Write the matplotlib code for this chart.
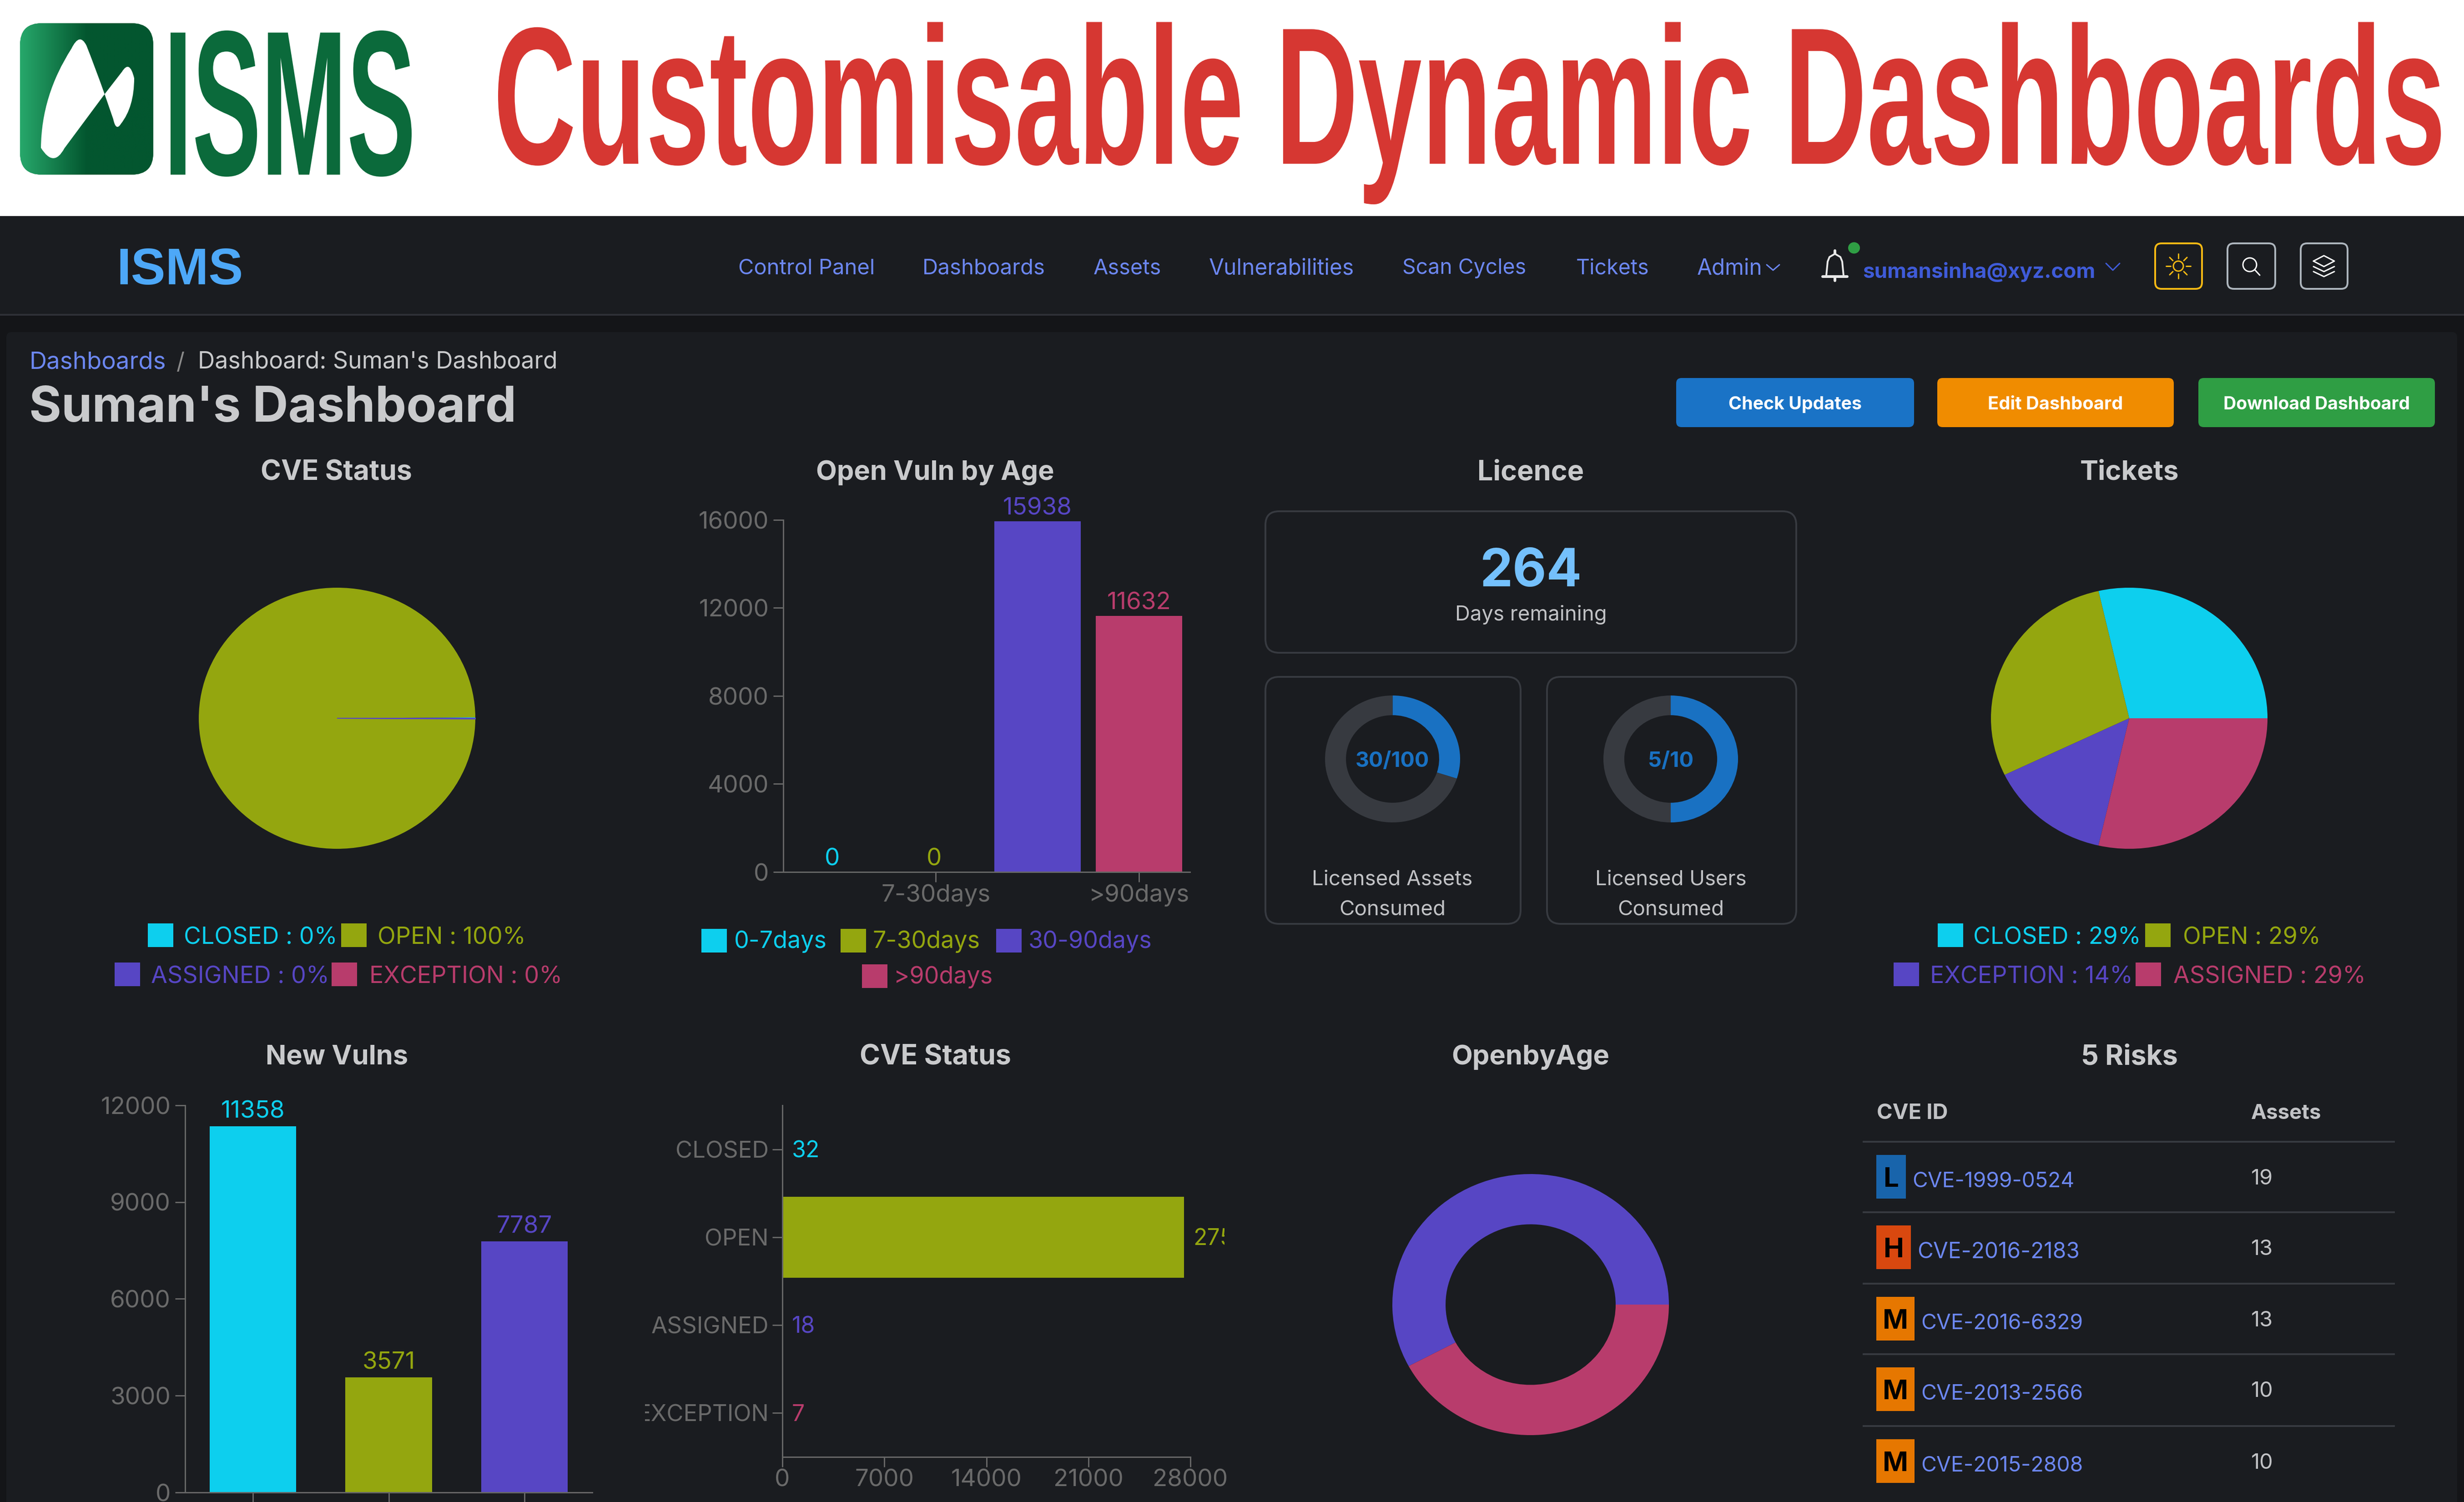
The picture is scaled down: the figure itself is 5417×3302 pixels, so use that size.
import numpy as np
import matplotlib
matplotlib.use('Agg')
import matplotlib.pyplot as plt
from matplotlib.patches import FancyBboxPatch, PathPatch, Rectangle, Ellipse
from matplotlib.path import Path
from matplotlib.colors import LinearSegmentedColormap
from matplotlib.textpath import TextPath
from matplotlib.font_manager import FontProperties
from matplotlib.patheffects import AbstractPathEffect
from matplotlib.transforms import Affine2D, Bbox

W, H = 5417, 3302

# data
status_names = ['CLOSED', 'OPEN', 'ASSIGNED', 'EXCEPTION']
status_counts = [32, 27570, 18, 7]
status_pct = [0, 100, 0, 0]

age_names = ['0-7days', '7-30days', '30-90days', '>90days']
age_values = [0, 0, 15938, 11632]
age_ticks = [None, '7-30days', None, '>90days']

ticket_names = ['CLOSED', 'OPEN', 'EXCEPTION', 'ASSIGNED']
ticket_counts = [2, 2, 1, 2]
ticket_pct = [29, 29, 14, 29]

new_vulns = [11358, 3571, 7787]

openby_age = [15938, 11632]

days_remaining = 264
assets_used, assets_total = 30, 100
users_used, users_total = 5, 10

risk_levels = ['L', 'H', 'M', 'M', 'M']
risk_ids = ['CVE-1999-0524', 'CVE-2016-2183', 'CVE-2016-6329', 'CVE-2013-2566', 'CVE-2015-2808']
risk_assets = [19, 13, 13, 10, 10]

nav_items = ['Control Panel', 'Dashboards', 'Assets', 'Vulnerabilities', 'Scan Cycles', 'Tickets', 'Admin']
buttons = ['Check Updates', 'Edit Dashboard', 'Download Dashboard']

# colours
CYAN, OLIVE, PURPLE, CRIMSON = '#0DCFEE', '#94A60F', '#5746C4', '#B83C6C'
BG, DARK, LINE = '#1A1C20', '#141518', '#373A40'
AXIS, TICK = '#666666', '#6A6A6A'
LIGHT, LINK, BLUE = '#C9CACC', '#6C87F0', '#1971C2'
status_colors = [CYAN, OLIVE, PURPLE, CRIMSON]
age_colors = [CYAN, OLIVE, PURPLE, CRIMSON]
ticket_colors = [CYAN, OLIVE, PURPLE, CRIMSON]
risk_colors = {'L': '#1864AB', 'H': '#D9480F', 'M': '#E67700'}

FONT = 'Inter'
FS = 53
LEGEND_FS = 52
plt.rcParams['font.family'] = [FONT, 'DejaVu Sans']

# dpi 72 so that a font size or a line width is simply in pixels
fig = plt.figure(figsize=((W + 0.01) / 72, (H + 0.01) / 72), dpi=72, facecolor='white')
bg = fig.add_axes([0, 0, 1, 1])
bg.set_xlim(0, W)
bg.set_ylim(H, 0)
bg.axis('off')


class YStretch(AbstractPathEffect):
    # pulls a text up about its baseline, the header lettering is very condensed
    def __init__(self, sy, y0):
        super().__init__()
        self.sy, self.y0 = sy, y0

    def draw_path(self, renderer, gc, tpath, affine, rgbFace=None):
        t = Affine2D().translate(0, -self.y0).scale(1, self.sy).translate(0, self.y0)
        renderer.draw_path(gc, tpath, affine + t, rgbFace)


def ink(s, size, weight='normal', family=FONT):
    prop = FontProperties(family=family, weight=weight)
    return TextPath((0, 0), s, size=size, prop=prop).get_extents()


def put(x, y, s, size=None, color=LIGHT, weight='normal', ha='left', width=None, **kw):
    # width: pick the font size so the string is that many pixels wide
    if width is not None:
        size = 100 * width / ink(s, 100, weight).width
    return bg.text(x, y, s, fontsize=size, color=color, fontweight=weight, ha=ha, va='center', **kw)


def condensed(x0, x1, base, s, tall_size, color):
    # font size from the width, then stretched up to the height of tall_size
    ext = ink(s, 100, 'bold', 'Liberation Sans')
    size = 100 * (x1 - x0) / ext.width
    xa = x0 - ext.x0 * size / 100
    bg.text(xa, base, s, fontsize=size, color=color, family='Liberation Sans', fontweight='bold',
            ha='left', va='baseline', path_effects=[YStretch(tall_size / size, H - base)])


def box(x0, y0, x1, y1, r, fc='none', ec='none', lw=0, z=1):
    p = FancyBboxPatch((x0, y0), x1 - x0, y1 - y0, boxstyle=f'round,pad=0,rounding_size={r}',
                       fc=fc, ec=ec, lw=lw, zorder=z)
    bg.add_patch(p)
    return p


def stroke(xs, ys, color='white', lw=3):
    bg.plot(xs, ys, color=color, lw=lw, solid_capstyle='round', zorder=5)


def chart_ax(x0, y0, x1, y1):
    ax = fig.add_axes([x0 / W, 1 - y1 / H, (x1 - x0) / W, (y1 - y0) / H])
    ax.patch.set_visible(False)
    return ax


def style_axes(ax):
    for side in ['top', 'right']:
        ax.spines[side].set_visible(False)
    for side in ['left', 'bottom']:
        ax.spines[side].set_color(AXIS)
        ax.spines[side].set_linewidth(3)
    ax.tick_params(colors=AXIS, labelcolor=TICK, labelsize=FS, width=3, length=22, pad=10)
    ax.tick_params(axis='x', pad=4)


def pie_ax(x0, y0, x1, y1, values, colors, start=0, ccw=True, ring=None):
    ax = chart_ax(x0, y0, x1, y1)
    props = {'linewidth': 0, 'clip_on': False}
    if ring is not None:
        props['width'] = ring
    wedges, _ = ax.pie(values, colors=colors, startangle=start, counterclock=ccw, wedgeprops=props)
    # the screenshot is a little wider than tall, so circles come out as ellipses
    ax.set_aspect('auto')
    ax.set_xlim(-1, 1)
    ax.set_ylim(-1, 1)
    return wedges


def legend_row(y, items, dy=6):
    for x_sq, x_txt, label, color in items:
        bg.add_patch(Rectangle((x_sq, y - 26), 56, 52, fc=color, lw=0))
        put(x_txt, y + dy, label, LEGEND_FS, color)


# header
bg.add_patch(Rectangle((0, 475), W, H - 475, fc=BG, lw=0))
bg.add_patch(Rectangle((0, 690), W, 4, fc='#2E3036', lw=0))
bg.add_patch(Rectangle((0, 694), W, H - 694, fc=DARK, lw=0))
box(14, 730, 5402, H + 40, 12, fc=BG)

logo = box(44, 51, 337, 384, 48, fc='#0B6A3B', z=2)
grad = LinearSegmentedColormap.from_list('logo', ['#27A86B', '#03562F', '#03562F'])
im = bg.imshow(np.linspace(0, 1, 256).reshape(1, -1), extent=(44, 337, 384, 51), cmap=grad, aspect='auto', zorder=3)
im.set_clip_path(logo)
bg.set_xlim(0, W)
bg.set_ylim(H, 0)
big_leaf = Path([(157, 107), (175, 70), (190, 100), (208, 145), (230, 207), (141.6, 326), (118, 370), (90, 325),
                 (91, 210), (157, 107), (157, 107)],
                [Path.MOVETO, Path.CURVE3, Path.CURVE3, Path.CURVE3, Path.CURVE3, Path.LINETO, Path.CURVE3,
                 Path.CURVE3, Path.CURVE3, Path.CURVE3, Path.CLOSEPOLY])
small_leaf = Path([(230, 207), (268, 158), (285, 130), (295, 172), (295, 235), (266, 272), (255, 290), (249, 262), (230, 207)],
                  [Path.MOVETO, Path.LINETO, Path.CURVE3, Path.CURVE3, Path.CURVE3, Path.CURVE3, Path.CURVE3,
                   Path.CURVE3, Path.CLOSEPOLY])
bg.add_patch(PathPatch(big_leaf, fc='white', lw=0, zorder=4))
bg.add_patch(PathPatch(small_leaf, fc='white', lw=0, zorder=4))

condensed(375, 905, 384, 'ISMS', 454, '#0B6A3B')
condensed(1095, 5366, 360, 'Customisable Dynamic Dashboards', 430, '#D63732')

# nav bar
bg.text(256, 596, 'ISMS', color='#4DA8F8', fontweight='bold', va='center', family='Liberation Sans',
        fontsize=100 * 266 / ink('ISMS', 100, 'bold', 'Liberation Sans').width)
nav_x = [(1623, 1917), (2028, 2292), (2404, 2550), (2658, 2973), (3083, 3350), (3465, 3621), (3731, 3870)]
for name, (x0, x1) in zip(nav_items, nav_x):
    put(x0, 590, name, color=LINK, width=x1 - x0)
stroke([3884, 3898, 3912], [582, 594, 582], LINK, 3)

# bell
bell_x = [4015, 4018, 4022, 4034, 4046, 4050, 4053]
bell_y = [606, 575, 565, 558, 565, 575, 606]
stroke(bell_x, bell_y, '#E8E8E8', 4)
stroke([4007, 4061], [608, 608], '#E8E8E8', 6)
stroke([4034, 4034], [551, 557], '#E8E8E8', 6)
stroke([4034, 4034], [611, 617], '#E8E8E8', 6)
bg.add_patch(Ellipse((4076, 545), 26, 25, fc='#2F9E44', lw=0, zorder=5))
put(4095, 598, 'sumansinha@xyz.com', color='#3F5BD8', width=507, weight='bold')
stroke([4630, 4645, 4660], [579, 594, 579], '#3F5BD8', 3)

box(4738, 535, 4841, 635, 14, ec='#F5B914', lw=4)
box(4897, 535, 5002, 635, 14, ec='#ADB5BD', lw=4)
box(5058, 535, 5161, 635, 14, ec='#ADB5BD', lw=4)
bg.add_patch(Ellipse((4789, 585), 22, 22, fc='none', ec='#F5B914', lw=3, zorder=5))
for a in np.arange(0, 360, 45):
    dx, dy = np.cos(np.radians(a)), np.sin(np.radians(a))
    stroke([4789 + 17 * dx, 4789 + 27 * dx], [585 + 17 * dy, 585 + 27 * dy], '#F5B914', 3)
bg.add_patch(Ellipse((4946, 582), 30, 30, fc='none', ec='white', lw=3, zorder=5))
stroke([4957, 4968], [593, 605], 'white', 3)
stroke([5086, 5109, 5132, 5109, 5086], [574, 562, 574, 586, 574], 'white', 3)
stroke([5086, 5109, 5132], [586, 597, 586], 'white', 3)
stroke([5086, 5109, 5132], [597, 608, 597], 'white', 3)

# page head
put(64, 797, 'Dashboards', color=LINK, width=293)
put(388, 797, '/', 50, '#8A8A8A')
put(435, 797, "Dashboard: Suman's Dashboard", color=LIGHT, width=782)
put(64, 898, "Suman's Dashboard", color=LIGHT, width=1060, weight='bold')

button_x = [(3685, 4208), (4259, 4779), (4833, 5353)]
button_text_w = [290, 292, 405]
button_fc = ['#1A73C6', '#F08C00', '#2F9E44']
for name, (x0, x1), tw, fc in zip(buttons, button_x, button_text_w, button_fc):
    box(x0, 831, x1, 939, 12, fc=fc)
    put((x0 + x1) / 2, 889, name, color='white', weight='bold', ha='center', width=tw, zorder=5)

# titles
for x, y, s, tw in [(739, 1039, 'CVE Status', 328), (2056, 1039, 'Open Vuln by Age', 518), (3365, 1039, 'Licence', 228),
                    (4681, 1039, 'Tickets', 213), (741, 2324, 'New Vulns', 307), (2056, 2324, 'CVE Status', 328),
                    (3365, 2324, 'OpenbyAge', 342), (4681, 2324, '5 Risks', 207)]:
    put(x, y, s, color=LIGHT, weight='bold', ha='center', width=tw)

# CVE status pie
wedges = pie_ax(437, 1292, 1045, 1866, status_counts, status_colors)
for w_, c in zip(wedges, status_colors):
    if c in (PURPLE, CRIMSON):
        w_.set_edgecolor(PURPLE)
        w_.set_linewidth(2)
        w_.set_zorder(3)
status_labels = [f'{n} : {p}%' for n, p in zip(status_names, status_pct)]
legend_row(2056, [(325, 404, status_labels[0], CYAN), (750, 830, status_labels[1], OLIVE)])
legend_row(2142, [(252, 332, status_labels[2], PURPLE), (729, 812, status_labels[3], CRIMSON)])

# open vuln by age
ax = chart_ax(1722, 1143, 2616, 1917)
style_axes(ax)
ax.bar(range(4), age_values, width=0.85, color=age_colors, lw=0)
ax.set_xlim(-0.5, 3.5)
ax.set_ylim(0, 16000)
ax.set_yticks([0, 4000, 8000, 12000, 16000])
tick_pos = [i for i, t in enumerate(age_ticks) if t]
ax.set_xticks(tick_pos, [age_ticks[i] for i in tick_pos])
for i, v in enumerate(age_values):
    ax.annotate(str(v), (i, v), xytext=(-4 if v == 0 else 0, 4), textcoords='offset points', ha='center', va='bottom',
                fontsize=FS, color=age_colors[i], annotation_clip=False)
legend_row(2068, [(1542, 1614, age_names[0], CYAN), (1848, 1918, age_names[1], OLIVE), (2190, 2261, age_names[2], PURPLE)], dy=2)
legend_row(2146, [(1895, 1965, age_names[3], CRIMSON)], dy=2)

# licence
box(2782, 1124, 3949, 1435, 30, ec=LINE, lw=4)
box(2782, 1488, 3343, 2031, 30, ec=LINE, lw=4)
box(3401, 1488, 3949, 2031, 30, ec=LINE, lw=4)
put(3366, 1259, str(days_remaining), color='#74C0FC', weight='bold', ha='center', width=213)
put(3366, 1351, 'Days remaining', color='#C1C2C5', ha='center', width=326)
pie_ax(2913, 1529, 3210, 1808, [assets_used, assets_total - assets_used], [BLUE, LINE], start=90, ccw=False, ring=0.31)
pie_ax(3525, 1529, 3821, 1808, [users_used, users_total - users_used], [BLUE, LINE], start=90, ccw=False, ring=0.31)
put(3061, 1674, f'{assets_used}/{assets_total}', color=BLUE, weight='bold', ha='center', width=158, zorder=6)
put(3673, 1674, f'{users_used}/{users_total}', color=BLUE, weight='bold', ha='center', width=95, zorder=6)
put(3061, 1933, 'Licensed Assets', color='#C1C2C5', ha='center', width=347)
put(3061, 1999, 'Consumed', color='#C1C2C5', ha='center', width=228)
put(3673, 1933, 'Licensed Users', color='#C1C2C5', ha='center', width=327)
put(3673, 1999, 'Consumed', color='#C1C2C5', ha='center', width=228)

# tickets pie
pie_ax(4377, 1292, 4985, 1866, ticket_counts, ticket_colors)
ticket_labels = [f'{n} : {p}%' for n, p in zip(ticket_names, ticket_pct)]
legend_row(2056, [(4260, 4338, ticket_labels[0], CYAN), (4716, 4799, ticket_labels[1], OLIVE)])
legend_row(2142, [(4163, 4243, ticket_labels[2], PURPLE), (4695, 4778, ticket_labels[3], CRIMSON)])

# new vulns
ax = chart_ax(407, 2430, 1302, 3281)
style_axes(ax)
ax.bar(range(3), new_vulns, width=0.637, color=status_colors[:3], lw=0)
ax.set_xlim(-0.5, 2.5)
ax.set_ylim(0, 12000)
ax.set_yticks([0, 3000, 6000, 9000, 12000])
ax.set_xticks(range(3), ['', '', ''])
for i, v in enumerate(new_vulns):
    ax.annotate(str(v), (i, v), xytext=(0, 7), textcoords='offset points', ha='center', va='bottom',
                fontsize=FS, color=status_colors[i])

# CVE status bars, the labels are cut off by the edge of the panel
ax = chart_ax(1720, 2430, 2617, 3203)
style_axes(ax)
ax.tick_params(axis='y', labelsize=51, pad=8)
ax.barh(range(4), status_counts, height=0.92, color=status_colors, lw=0)
ax.set_xlim(0, 28000)
ax.set_ylim(3.5, -0.5)
ax.set_xticks([0, 7000, 14000, 21000, 28000])
ax.set_yticks(range(4), status_names)
clip = Bbox.from_extents(1418, 0, 2692, H)
for lab in ax.get_yticklabels():
    lab.set_clip_on(True)
    lab.set_clip_box(clip)
for i, v in enumerate(status_counts):
    t = ax.annotate(str(v), (v, i), xytext=(20, -4), textcoords='offset points', ha='left', va='center',
                    fontsize=50, color=status_colors[i], annotation_clip=False)
    t.set_clip_on(True)
    t.set_clip_box(clip)

# openbyage donut
pie_ax(3061, 2581, 3669, 3155, openby_age, [PURPLE, CRIMSON], ring=0.385)

# risks table
put(4126, 2448, 'CVE ID', color='#C1C2C5', weight='bold', width=152)
put(4949, 2448, 'Assets', color='#C1C2C5', weight='bold', width=152)
for y in [2510, 2665, 2822, 2977, 3135]:
    bg.add_patch(Rectangle((4095, y - 2), 1170, 4, fc=LINE, lw=0))
badge_w = {'L': 65, 'H': 76, 'M': 84}
row_y = [2587, 2742, 2899, 3054, 3212]
for level, cve, n, y in zip(risk_levels, risk_ids, risk_assets, row_y):
    bw = badge_w[level]
    bg.add_patch(Rectangle((4125, y - 48), bw, 96, fc=risk_colors[level], lw=0))
    put(4125 + bw / 2, y + 6, level, 60, 'black', 'bold', ha='center')
    put(4125 + bw + 14, y + 11, cve, color=LINK, width=351)
    put(4949, y + 5, str(n), 47, '#C1C2C5')

fig.savefig('out.png', dpi=72, facecolor='white')
